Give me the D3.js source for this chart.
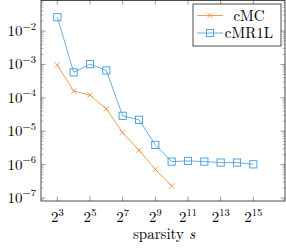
<!DOCTYPE html>
<html><head><meta charset="utf-8">
<script src="https://cdn.jsdelivr.net/npm/d3@7"></script>
<style>body{margin:0;background:#fff}svg{display:block}</style>
</head><body><svg id="c" width="286" height="249"></svg>
<script>
const sparsityExp = [3,4,5,6,7,8,9,10,11,12,13,14,15];
const cMC   = [9.6e-4,1.6e-4,1.2e-4,4.7e-5,9.0e-6,2.7e-6,7.2e-7,2.3e-7];
const cMR1L = [2.6e-2,5.8e-4,1.02e-3,6.6e-4,2.9e-5,2.2e-5,3.9e-6,1.23e-6,1.29e-6,1.23e-6,1.15e-6,1.15e-6,1.02e-6];
const xTickExp = [3,5,7,9,11,13,15];
const yTickExp = [-2,-3,-4,-5,-6,-7];
const seriesNames = ["cMC","cMR1L"];
const colors = ["#ee8432","#3d9ad6"];
const FONT = "'Latin Modern Roman', monospace";

const svg = d3.select("#c");
const L=41,R=285,T=0,B=201;
const x = d3.scaleLinear().domain([2.0,16.94]).range([L,R]);
const y = d3.scaleLog().domain([Math.pow(10,-7.09),Math.pow(10,-1.07)]).range([B,T]);
function txt(sel){ return sel.append("text").style("font-family",FONT).attr("fill","#000"); }

const g = svg.append("g");
yTickExp.forEach(e=>{
  const yy = y(Math.pow(10,e));
  g.append("line").attr("x1",L).attr("x2",L+4.5).attr("y1",yy).attr("y2",yy).attr("stroke","#555").attr("stroke-width",0.6);
  g.append("line").attr("x1",R).attr("x2",R-4.5).attr("y1",yy).attr("y2",yy).attr("stroke","#555").attr("stroke-width",0.6);
  const t = txt(svg).attr("x",36).attr("y",yy+5).attr("text-anchor","end").style("font-size","15px");
  t.append("tspan").text("10");
  t.append("tspan").attr("dy",-6.5).style("font-size","10.5px").text("\u2212"+(-e));
});
for(let e=-8;e<=-1;e++){
  for(let m=2;m<=9;m++){
    const v=m*Math.pow(10,e);
    if(v<y.domain()[0]||v>y.domain()[1]) continue;
    const yy=y(v);
    g.append("line").attr("x1",L).attr("x2",L+2.5).attr("y1",yy).attr("y2",yy).attr("stroke","#777").attr("stroke-width",0.5);
    g.append("line").attr("x1",R).attr("x2",R-2.5).attr("y1",yy).attr("y2",yy).attr("stroke","#777").attr("stroke-width",0.5);
  }
}
xTickExp.forEach(e=>{
  const xx=x(e);
  g.append("line").attr("x1",xx).attr("x2",xx).attr("y1",B).attr("y2",B-4.5).attr("stroke","#555").attr("stroke-width",0.6);
  g.append("line").attr("x1",xx).attr("x2",xx).attr("y1",T).attr("y2",T+4.5).attr("stroke","#555").attr("stroke-width",0.6);
  const t = txt(svg).attr("x",xx).attr("y",222).attr("text-anchor","middle").style("font-size","15px");
  t.append("tspan").text("2");
  t.append("tspan").attr("dy",-6.5).style("font-size","10.5px").text(e);
});
svg.append("rect").attr("x",L).attr("y",T+0.4).attr("width",R-L).attr("height",B-T-0.4).attr("fill","none").attr("stroke","#222").attr("stroke-width",0.8);

const line = d3.line().x(d=>x(d[0])).y(d=>y(d[1]));
function cross(sel,cx,cy,c){
  const s=2.6;
  sel.append("path").attr("d",`M${cx-s},${cy-s}L${cx+s},${cy+s}M${cx-s},${cy+s}L${cx+s},${cy-s}`).attr("stroke",c).attr("stroke-width",0.8).attr("fill","none");
}
function square(sel,cx,cy,c){
  const s=3.6;
  sel.append("rect").attr("x",cx-s).attr("y",cy-s).attr("width",2*s).attr("height",2*s).attr("fill","none").attr("stroke",c).attr("stroke-width",0.9);
}
const d0 = cMC.map((v,i)=>[sparsityExp[i],v]);
const d1 = cMR1L.map((v,i)=>[sparsityExp[i],v]);
svg.append("path").attr("d",line(d0)).attr("fill","none").attr("stroke",colors[0]).attr("stroke-width",0.8);
d0.forEach(d=>cross(svg,x(d[0]),y(d[1]),colors[0]));
svg.append("path").attr("d",line(d1)).attr("fill","none").attr("stroke",colors[1]).attr("stroke-width",0.8);
d1.forEach(d=>square(svg,x(d[0]),y(d[1]),colors[1]));

svg.append("rect").attr("x",193).attr("y",4).attr("width",88).attr("height",42).attr("fill","#fff").attr("stroke","#222").attr("stroke-width",0.8);
[15.5,33].forEach((ly,i)=>{
  svg.append("line").attr("x1",197).attr("x2",223).attr("y1",ly).attr("y2",ly).attr("stroke",colors[i]).attr("stroke-width",0.8);
  if(i===0) cross(svg,210,ly,colors[0]); else square(svg,210,ly,colors[1]);
  txt(svg).attr("x",249).attr("y",ly+5).attr("text-anchor","middle").style("font-size","15px").text(seriesNames[i]);
});
const xl = txt(svg).attr("x",164).attr("y",239).attr("text-anchor","middle").style("font-size","15px");
xl.append("tspan").text("sparsity ");
xl.append("tspan").style("font-style","italic").text("s");
</script></body></html>
